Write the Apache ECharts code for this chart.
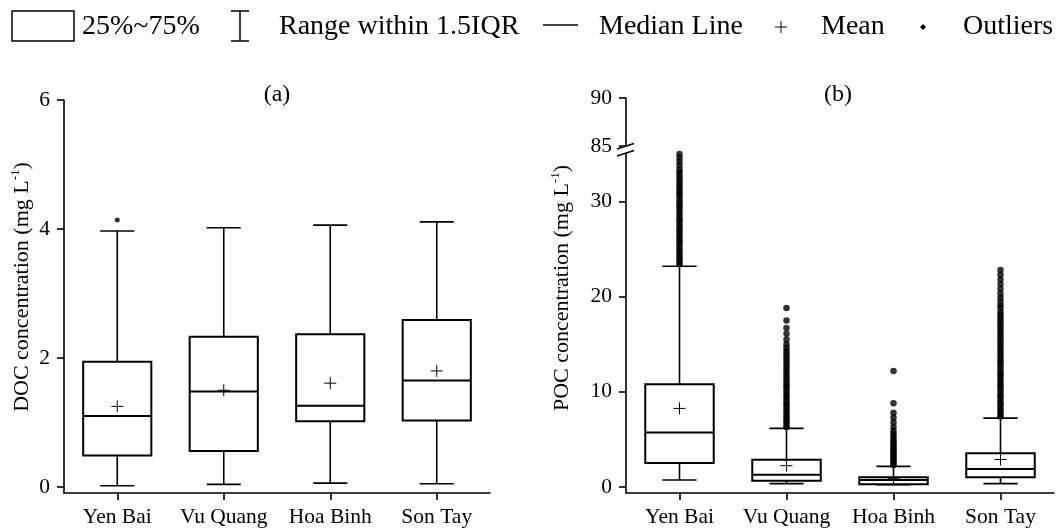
<!DOCTYPE html>
<html>
<head>
<meta charset="utf-8">
<script src="https://cdn.jsdelivr.net/npm/echarts@6/dist/echarts.min.js"></script>
<style>
html,body{margin:0;padding:0;background:#fff;}
#chart{width:1057px;height:531px;}
</style>
</head>
<body>
<div id="chart"></div>
<script>
// ---------- DATA ----------
const categories = ['Yen Bai', 'Vu Quang', 'Hoa Binh', 'Son Tay'];

// Panel (a) DOC: [lower whisker, Q1, median, Q3, upper whisker]
const docYenBai  = [0.02, 0.49, 1.10, 1.94, 3.97];
const docVuQuang = [0.04, 0.56, 1.48, 2.33, 4.02];
const docHoaBinh = [0.06, 1.02, 1.26, 2.37, 4.06];
const docSonTay  = [0.05, 1.03, 1.65, 2.59, 4.11];
const docMeans   = [1.25, 1.50, 1.61, 1.80];
const docOutYenBai = [4.14];
const docTicks = [0, 2, 4, 6];

// Panel (b) POC: [lower whisker, Q1, median, Q3, upper whisker]
const pocYenBai  = [0.73, 2.52, 5.74, 10.8, 23.2];
const pocVuQuang = [0.35, 0.66, 1.29, 2.87, 6.16];
const pocHoaBinh = [0.24, 0.28, 0.73, 1.02, 2.17];
const pocSonTay  = [0.35, 1.02, 1.89, 3.54, 7.24];
const pocMeans   = [8.26, 2.24, 0.87, 2.90];
const pocTicksLow = [0, 10, 20, 30];
const pocTicksHigh = [85, 90];

const pocOutYenBai = [23.4, 23.6, 23.9, 24.1, 24.4, 24.7, 24.9, 25.2, 25.5, 25.8, 26.0, 26.3, 26.6, 26.9, 27.1, 27.4, 27.7, 28.0, 28.2, 28.5, 28.8, 29.1, 29.4, 29.6, 29.9, 30.2, 30.5, 30.8, 31.0, 31.3, 31.6, 31.9, 32.2, 32.5, 32.8, 33.1, 33.4, 33.8, 34.2, 34.6, 35.0];
const pocOutVuQuang = [6.3, 6.5, 6.8, 7.0, 7.3, 7.5, 7.8, 8.0, 8.3, 8.6, 8.8, 9.1, 9.4, 9.6, 9.9, 10.2, 10.5, 10.7, 11.0, 11.3, 11.6, 11.9, 12.2, 12.5, 12.8, 13.1, 13.4, 13.7, 14.0, 14.3, 14.6, 15.0, 15.5, 16.1, 16.7, 17.5, 18.8];
const pocOutHoaBinh = [2.3, 2.5, 2.7, 2.9, 3.1, 3.3, 3.5, 3.7, 3.9, 4.1, 4.3, 4.6, 4.8, 5.0, 5.3, 5.6, 5.9, 6.3, 6.8, 7.3, 7.8, 8.8, 12.2];
const pocOutSonTay = [7.4, 7.6, 7.9, 8.1, 8.4, 8.7, 8.9, 9.2, 9.5, 9.7, 10.0, 10.3, 10.6, 10.8, 11.1, 11.4, 11.7, 11.9, 12.2, 12.5, 12.8, 13.1, 13.3, 13.6, 13.9, 14.2, 14.5, 14.8, 15.1, 15.4, 15.7, 16.0, 16.3, 16.6, 16.9, 17.2, 17.5, 17.8, 18.1, 18.4, 18.8, 19.1, 19.5, 19.9, 20.3, 20.8, 21.3, 21.8, 22.3, 22.8];

// ---------- CHART ----------
const FONT = '"Liberation Serif", "Times New Roman", serif';
const BLACK = '#000';

function boxSeries(boxes, means, axisIdx) {
  const data = boxes.map((b, i) => [i].concat(b).concat([means[i]]));
  return {
    type: 'custom',
    xAxisIndex: axisIdx, yAxisIndex: axisIdx,
    data: data,
    encode: { x: 0, y: [1, 2, 3, 4, 5, 6] },
    z: 3,
    renderItem: function (params, api) {
      const i = api.value(0);
      const x = api.coord([i, api.value(3)])[0];
      const w = api.size([1, 0])[0] * 0.64;
      const yv = k => api.coord([i, api.value(k)])[1];
      const yMin = yv(1), yQ1 = yv(2), yMed = yv(3), yQ3 = yv(4), yMax = yv(5), yMean = yv(6);
      const st = { stroke: BLACK, lineWidth: 1.6, fill: null };
      const boxSt = { stroke: BLACK, lineWidth: 2, fill: null };
      const cap = w / 4;
      const m = 6;
      return {
        type: 'group',
        children: [
          { type: 'line', shape: { x1: x, y1: yQ3, x2: x, y2: yMax }, style: st },
          { type: 'line', shape: { x1: x, y1: yQ1, x2: x, y2: yMin }, style: st },
          { type: 'line', shape: { x1: x - cap, y1: yMax, x2: x + cap, y2: yMax }, style: st },
          { type: 'line', shape: { x1: x - cap, y1: yMin, x2: x + cap, y2: yMin }, style: st },
          { type: 'rect', shape: { x: x - w / 2, y: yQ3, width: w, height: yQ1 - yQ3 }, style: boxSt },
          { type: 'line', shape: { x1: x - w / 2, y1: yMed, x2: x + w / 2, y2: yMed }, style: boxSt },
          { type: 'line', shape: { x1: x - m, y1: yMean, x2: x + m, y2: yMean }, style: { stroke: BLACK, lineWidth: 1 } },
          { type: 'line', shape: { x1: x, y1: yMean - m, x2: x, y2: yMean + m }, style: { stroke: BLACK, lineWidth: 1 } }
        ]
      };
    }
  };
}

function outlierSeries(lists, axisIdx, size) {
  const data = [];
  lists.forEach((arr, i) => arr.forEach(v => data.push([i, v])));
  return {
    type: 'scatter', xAxisIndex: axisIdx, yAxisIndex: axisIdx,
    data: data, symbol: 'circle', symbolSize: size,
    itemStyle: { color: BLACK }, z: 4, silent: true
  };
}

const axisLineStyle = { color: BLACK, width: 1.6 };
const catAxis = (gi, show) => ({
  gridIndex: gi, type: 'category', data: categories, show: show,
  boundaryGap: true,
  axisLine: { show: true, onZero: false, lineStyle: axisLineStyle },
  axisTick: { show: true, alignWithLabel: true, interval: 0, length: 7, lineStyle: axisLineStyle },
  axisLabel: { color: BLACK, fontFamily: FONT, fontSize: 21.5, margin: 13, interval: 0, hideOverlap: false },
  splitLine: { show: false }
});
const valAxis = (gi, min, max, ticks, extra) => Object.assign({
  gridIndex: gi, type: 'value', min: min, max: max,
  axisLine: { show: true, lineStyle: axisLineStyle },
  axisTick: { show: true, length: 7, lineStyle: axisLineStyle, customValues: ticks },
  axisLabel: { color: BLACK, fontFamily: FONT, fontSize: 21.5, margin: 14, customValues: ticks },
  splitLine: { show: false }
}, extra || {});

const nameRich = {
  n: { fontFamily: FONT, fontSize: 22, lineHeight: 26, color: BLACK },
  s: { fontFamily: FONT, fontSize: 13, lineHeight: 16, verticalAlign: 'top', color: BLACK }
};

const LEG_Y = 27;
const legFont = { fontFamily: FONT, fontSize: 28, fill: BLACK, verticalAlign: 'middle', align: 'left' };

const option = {
  animation: false,
  backgroundColor: '#fff',
  grid: [
    { left: 64, top: 100, width: 426, height: 393 },
    { left: 626, top: 153, width: 428, height: 340 },
    { left: 626, top: 98, width: 428, height: 48 }
  ],
  xAxis: [catAxis(0, true), catAxis(1, true), catAxis(2, false)],
  yAxis: [
    valAxis(0, -0.093, 6, docTicks),
    valAxis(1, -0.63, 35.1, pocTicksLow),
    valAxis(2, 85, 90, pocTicksHigh)
  ],
  series: [
    boxSeries([docYenBai, docVuQuang, docHoaBinh, docSonTay], docMeans, 0),
    outlierSeries([docOutYenBai, [], [], []], 0, 5),
    boxSeries([pocYenBai, pocVuQuang, pocHoaBinh, pocSonTay], pocMeans, 1),
    outlierSeries([pocOutYenBai, pocOutVuQuang, pocOutHoaBinh, pocOutSonTay], 1, 6.5),
    { type: 'scatter', xAxisIndex: 2, yAxisIndex: 2, data: [] }
  ],
  graphic: [
    // legend
    { type: 'rect', shape: { x: 12, y: 11, width: 62, height: 30 }, style: { fill: '#fff', stroke: BLACK, lineWidth: 1.5 } },
    { type: 'text', x: 82, y: LEG_Y, style: Object.assign({ text: '25%~75%' }, legFont) },
    { type: 'line', shape: { x1: 240, y1: 11, x2: 240, y2: 41 }, style: { stroke: BLACK, lineWidth: 1.5 } },
    { type: 'line', shape: { x1: 231, y1: 11, x2: 249, y2: 11 }, style: { stroke: BLACK, lineWidth: 1.5 } },
    { type: 'line', shape: { x1: 231, y1: 41, x2: 249, y2: 41 }, style: { stroke: BLACK, lineWidth: 1.5 } },
    { type: 'text', x: 279, y: LEG_Y, style: Object.assign({ text: 'Range within 1.5IQR' }, legFont) },
    { type: 'line', shape: { x1: 543, y1: 25, x2: 578, y2: 25 }, style: { stroke: BLACK, lineWidth: 1.5 } },
    { type: 'text', x: 599, y: LEG_Y, style: Object.assign({ text: 'Median Line' }, legFont) },
    { type: 'line', shape: { x1: 775, y1: 27, x2: 787, y2: 27 }, style: { stroke: BLACK, lineWidth: 1 } },
    { type: 'line', shape: { x1: 781, y1: 21, x2: 781, y2: 33 }, style: { stroke: BLACK, lineWidth: 1 } },
    { type: 'text', x: 821, y: LEG_Y, style: Object.assign({ text: 'Mean' }, legFont) },
    { type: 'polygon', shape: { points: [[923, 24], [926, 27], [923, 30], [920, 27]] }, style: { fill: BLACK } },
    { type: 'text', x: 963, y: LEG_Y, style: Object.assign({ text: 'Outliers' }, legFont) },
    // panel titles
    { type: 'text', x: 277, y: 95, style: { text: '(a)', fontFamily: FONT, fontSize: 24, fill: BLACK, align: 'center', verticalAlign: 'middle' } },
    { type: 'text', x: 838, y: 95, style: { text: '(b)', fontFamily: FONT, fontSize: 24, fill: BLACK, align: 'center', verticalAlign: 'middle' } },
    // axis names
    { type: 'text', x: 22, y: 287, rotation: Math.PI / 2,
      style: { text: '{n|DOC concentration (mg L}{s|-1}{n|)}', rich: nameRich, align: 'center', verticalAlign: 'middle' } },
    { type: 'text', x: 562, y: 288, rotation: Math.PI / 2,
      style: { text: '{n|POC concentration (mg L}{s|-1}{n|)}', rich: nameRich, align: 'center', verticalAlign: 'middle' } },
    // axis break marks
    { type: 'rect', shape: { x: 622, y: 146, width: 8, height: 7 }, style: { fill: '#fff' }, z: 10 },
    { type: 'line', shape: { x1: 617, y1: 149, x2: 634, y2: 143.5 }, style: { stroke: BLACK, lineWidth: 1.5 }, z: 11 },
    { type: 'line', shape: { x1: 617, y1: 156, x2: 634, y2: 150.5 }, style: { stroke: BLACK, lineWidth: 1.5 }, z: 11 }
  ]
};

const chart = echarts.init(document.getElementById('chart'), null, { renderer: 'canvas' });
chart.setOption(option);
</script>
</body>
</html>
